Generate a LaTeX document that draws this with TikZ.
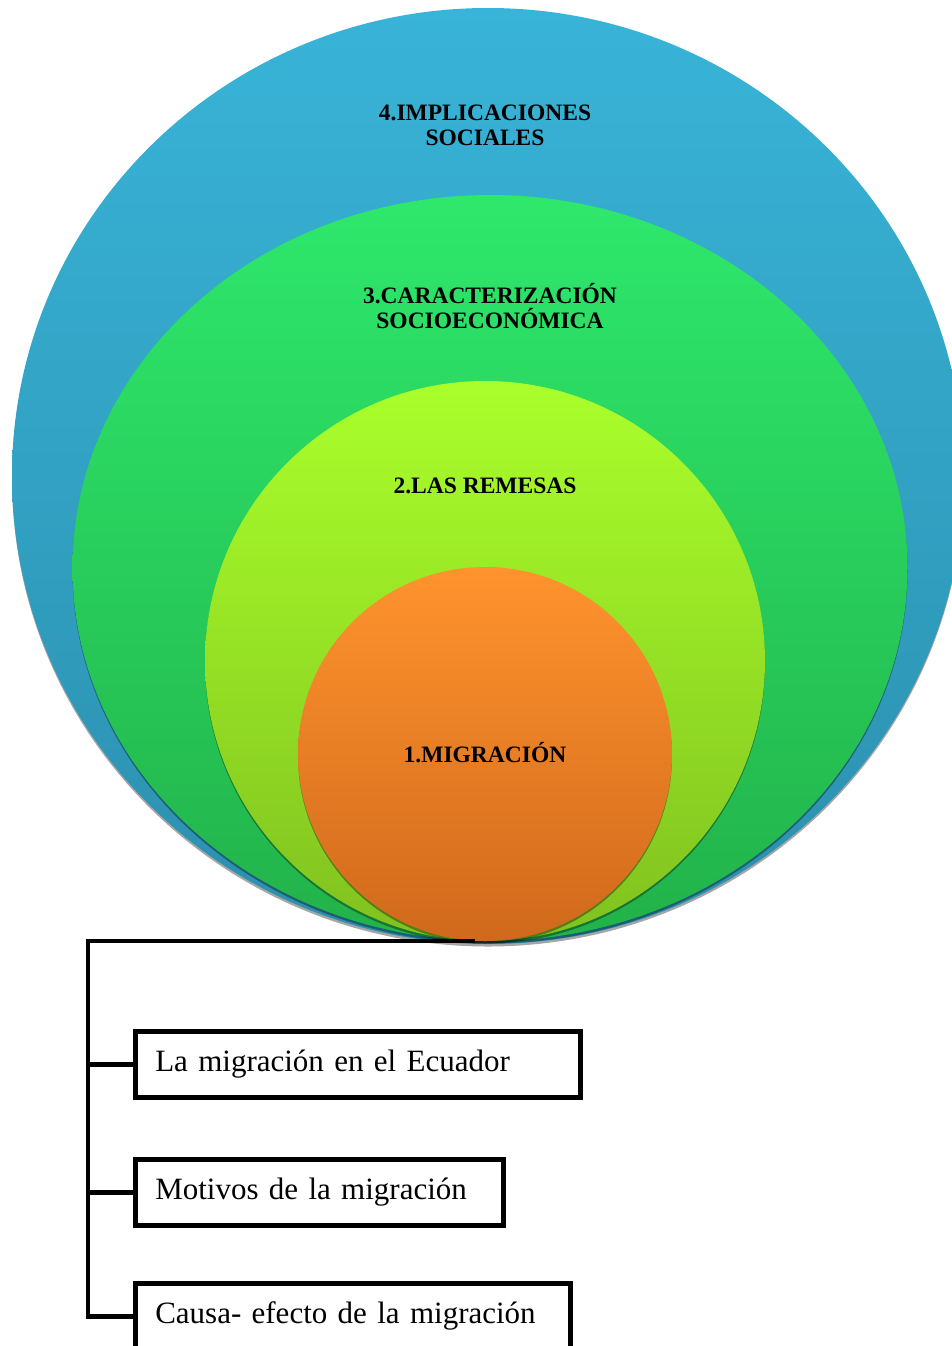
\documentclass[tikz,border=0pt]{standalone}
\usepackage{fontspec}
\setmainfont{Liberation Serif}
\usetikzlibrary{shapes.geometric,shadows}
\definecolor{bluetop}{HTML}{38B4D8}
\definecolor{bluebot}{HTML}{2C8FAE}
\definecolor{greentop}{HTML}{2EE86C}
\definecolor{greenbot}{HTML}{22B24A}
\definecolor{limetop}{HTML}{AAFF2B}
\definecolor{limebot}{HTML}{80C11F}
\definecolor{orangetop}{HTML}{FF932D}
\definecolor{orangebot}{HTML}{D0691C}
\tikzset{
  ring/.style={ellipse, inner sep=0pt, draw=none,
    drop shadow={shadow xshift=0pt, shadow yshift=-2.5pt, opacity=0.35, fill=black}},
  lbl/.style={font=\fontsize{23.5}{25}\selectfont\bfseries, align=center, text=black},
  itembox/.style={draw=black, line width=4.5pt, fill=white, anchor=north west,
    minimum height=66pt, inner xsep=20pt, align=left,
    font=\fontsize{31}{36}\selectfont,
    drop shadow={shadow xshift=1pt, shadow yshift=-2pt, opacity=0.3, fill=black}},
  conn/.style={draw=black, line width=4.5pt}
}
\begin{document}
\begin{tikzpicture}[x=1pt,y=-1pt]
\useasboundingbox (0,0) rectangle (952,1346);
\node[ring, minimum width=952pt, minimum height=936pt, top color=bluetop, bottom color=bluebot] (soc) at (488,476) {};
\node[ring, minimum width=835pt, minimum height=746pt, top color=greentop, bottom color=greenbot] (car) at (490,568) {};
\node[ring, minimum width=560pt, minimum height=560pt, top color=limetop, bottom color=limebot] (rem) at (485,661) {};
\node[ring, minimum width=374pt, minimum height=374pt, top color=orangetop, bottom color=orangebot] (mig) at (485,754) {};

\node[lbl] (t4) at (485,125) {4.IMPLICACIONES\\SOCIALES};
\node[lbl] (t3) at (490,306) {3.CARACTERIZACIÓN\\SOCIOECONÓMICA};
\node[lbl] (t2) at (485,486) {2.LAS REMESAS};
\node[lbl] (t1) at (485,753) {1.MIGRACIÓN};

\node[itembox, minimum width=445pt, text width=405pt] (b1) at (133,1029) {La migración en el Ecuador};
\node[itembox, minimum width=368pt, text width=328pt] (b2) at (133,1157) {Motivos de la migración};
\node[itembox, minimum width=435pt, text width=395pt] (b3) at (133,1281) {Causa- efecto de la migración};

\coordinate (top) at (475,941);
\coordinate (j) at (88,941);
\draw[conn] (top) -- (j) |- (b3.west);
\draw[conn] (j |- b1.west) -- (b1.west);
\draw[conn] (j |- b2.west) -- (b2.west);
\end{tikzpicture}
\end{document}
